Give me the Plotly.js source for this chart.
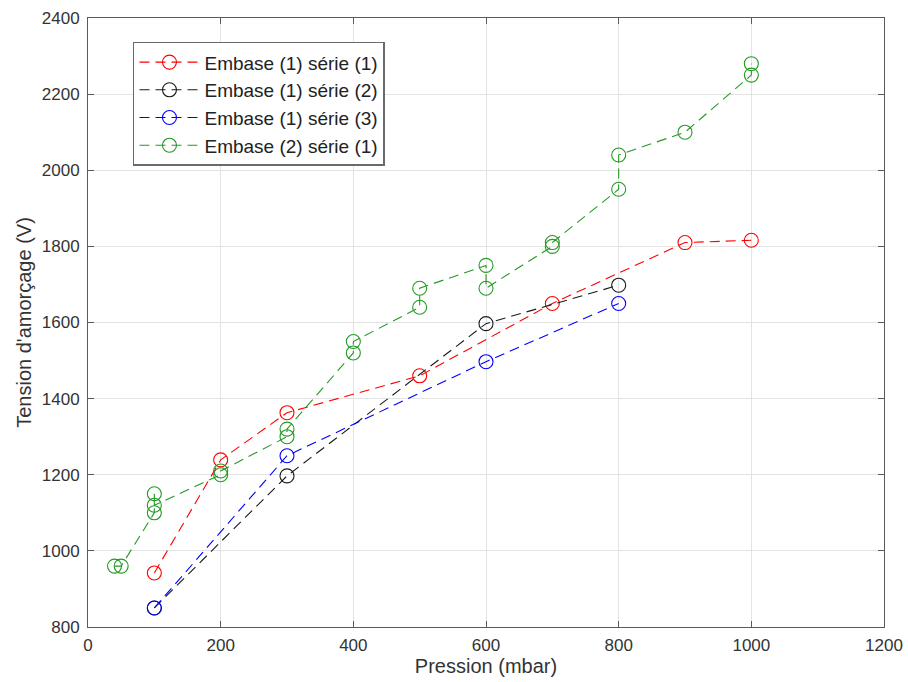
<!DOCTYPE html>
<html>
<head>
<meta charset="utf-8">
<script src="https://cdn.plot.ly/plotly-3.0.1.min.js"></script>
<style>html,body{margin:0;padding:0;background:#fff;}#chart{width:908px;height:682px;}</style>
</head>
<body>
<div id="chart"></div>
<script>
// Data
const seriesNames = ["Embase (1) série (1)", "Embase (1) série (2)", "Embase (1) série (3)", "Embase (2) série (1)"];

const e1s1_x = [100, 200, 300, 500, 700, 900, 1000];
const e1s1_y = [942, 1239, 1363, 1460, 1650, 1810, 1816];

const e1s2_x = [100, 300, 600, 800];
const e1s2_y = [850, 1197, 1597, 1698];

const e1s3_x = [100, 300, 600, 800];
const e1s3_y = [850, 1250, 1497, 1650];

const e2s1_x = [40, 50, 100, 100, 100, 200, 200, 300, 300, 400, 400, 500, 500, 600, 600, 700, 700, 800, 800, 900, 1000, 1000];
const e2s1_y = [960, 960, 1100, 1150, 1120, 1200, 1210, 1300, 1320, 1520, 1550, 1640, 1690, 1750, 1690, 1800, 1810, 1950, 2040, 2100, 2250, 2280];

const xTicks = [0, 200, 400, 600, 800, 1000, 1200];
const yTicks = [800, 1000, 1200, 1400, 1600, 1800, 2000, 2200, 2400];

const colors = ["#ff0000", "#1a1a1a", "#0000ff", "#239a23"];

function mk(x, y, name, color) {
  return {
    type: "scatter", mode: "lines+markers", x: x, y: y, name: name,
    line: {color: color, width: 1.1, dash: "10px,6px"},
    marker: {symbol: "circle-open", size: 14, color: color, line: {width: 1.1, color: color}}
  };
}

const data = [
  mk(e1s1_x, e1s1_y, seriesNames[0], colors[0]),
  mk(e1s2_x, e1s2_y, seriesNames[1], colors[1]),
  mk(e1s3_x, e1s3_y, seriesNames[2], colors[2]),
  mk(e2s1_x, e2s1_y, seriesNames[3], colors[3])
];

const FONT = "Liberation Sans, Arial, Helvetica, sans-serif";

const axisCommon = {
  showline: true, linecolor: "#5a5a5a", linewidth: 1, mirror: "allticks",
  ticks: "inside", ticklen: 6, tickcolor: "#5a5a5a", tickwidth: 1,
  showgrid: true, gridcolor: "#e3e3e3", gridwidth: 1, zeroline: false,
  tickfont: {family: FONT, size: 17, color: "#333333"}
};

const layout = {
  width: 908, height: 682,
  margin: {l: 88, r: 24, t: 18, b: 55},
  paper_bgcolor: "#ffffff", plot_bgcolor: "#ffffff",
  font: {family: FONT, color: "#333333"},
  xaxis: Object.assign({}, axisCommon, {
    range: [0, 1200], tickvals: xTicks, ticktext: xTicks.map(String),
    ticklabelstandoff: 3,
    title: {text: "Pression (mbar)", font: {size: 20, color: "#333333"}, standoff: 4}
  }),
  yaxis: Object.assign({}, axisCommon, {
    range: [800, 2400], tickvals: yTicks, ticktext: yTicks.map(String),
    ticklabelstandoff: 4,
    title: {text: "Tension d'amorçage (V)", font: {size: 20, color: "#333333"}, standoff: 4}
  }),
  showlegend: true,
  legend: {
    x: 0.0565, y: 0.961, xanchor: "left", yanchor: "top",
    bgcolor: "#ffffff", bordercolor: "#6a6a6a", borderwidth: 1.5,
    font: {size: 19, color: "#222222", family: FONT},
    tracegroupgap: 0, itemwidth: 60
  }
};

Plotly.newPlot("chart", data, layout, {displayModeBar: false, staticPlot: true});
</script>
</body>
</html>
